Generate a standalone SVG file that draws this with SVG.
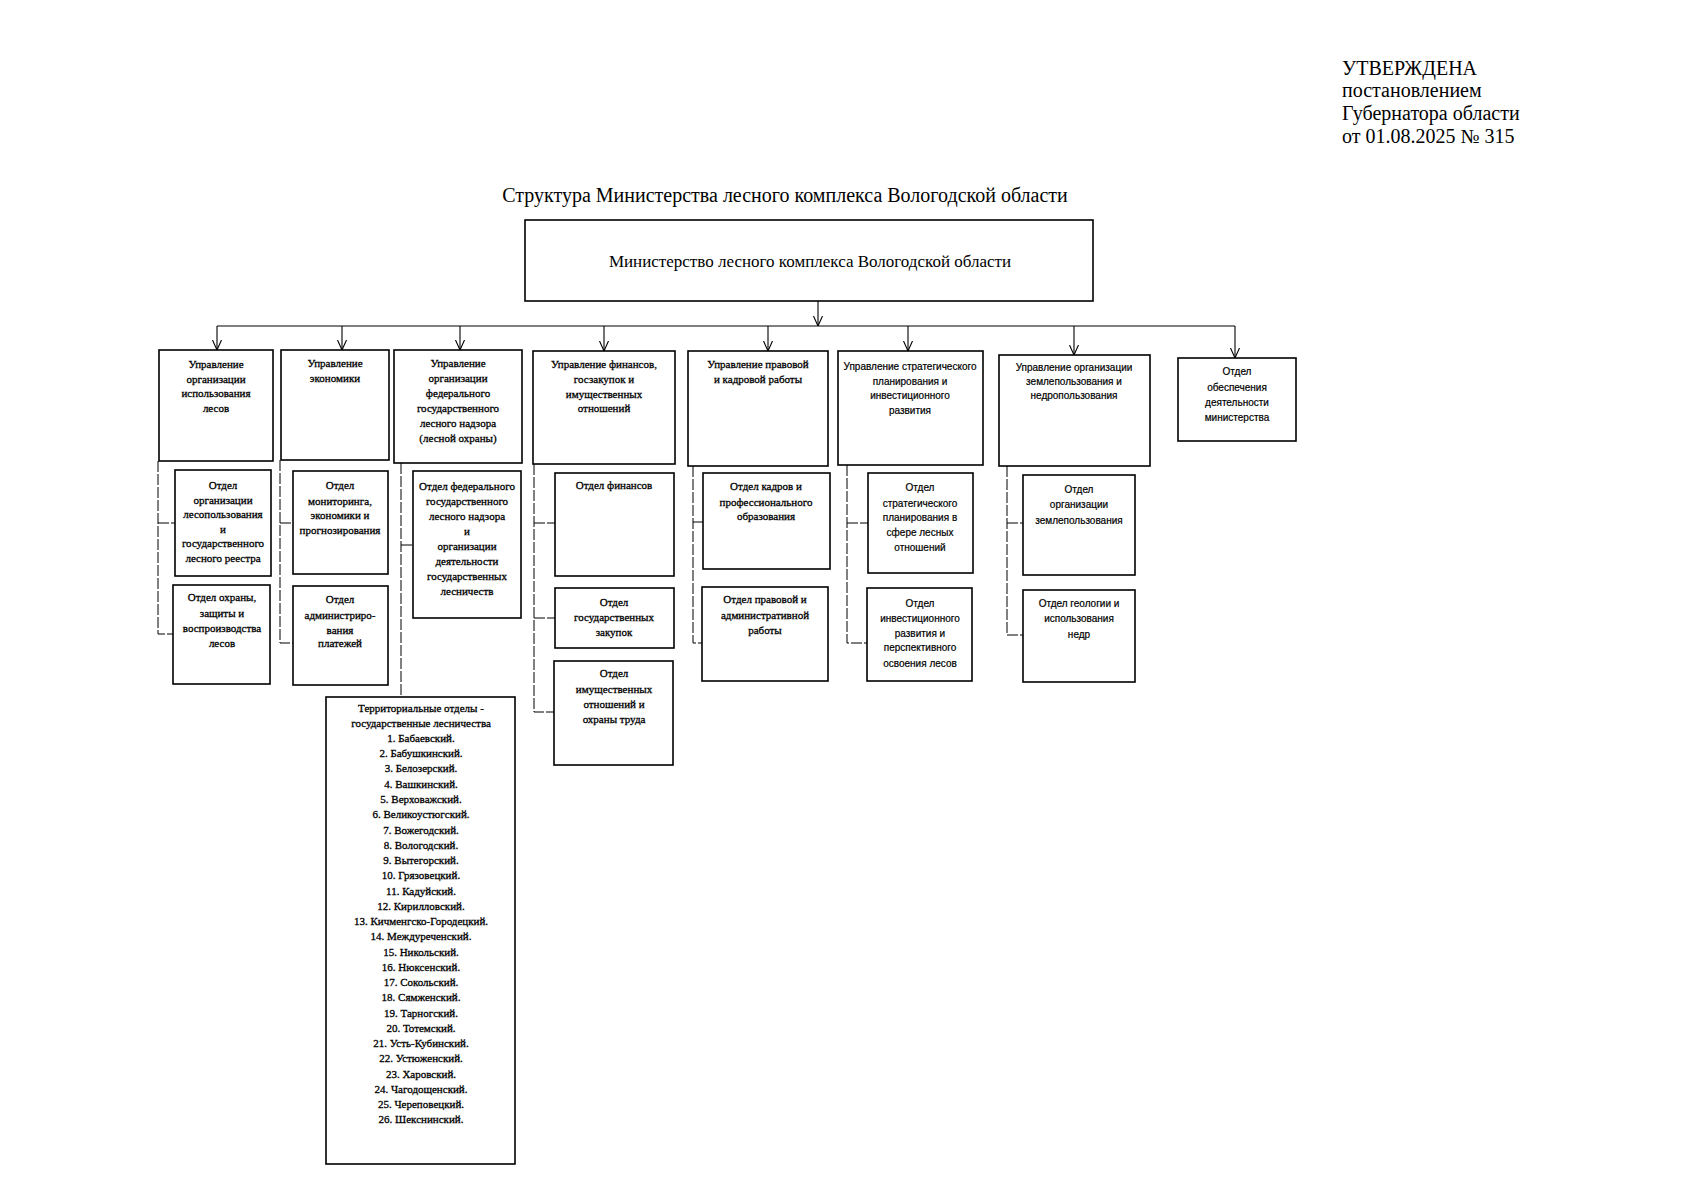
<svg xmlns="http://www.w3.org/2000/svg" width="1698" height="1200" viewBox="0 0 1698 1200">
<style>
.bg{fill:#fff}
.box{fill:none;stroke:#000;stroke-width:1.6}
.t{font-family:"Liberation Serif","DejaVu Serif",serif;font-size:11px;text-anchor:middle;fill:#000;stroke:#000;stroke-width:0.3}
.s{font-family:"Liberation Sans","DejaVu Sans",sans-serif;font-size:10px;text-anchor:middle;fill:#000;stroke:#000;stroke-width:0.2}
.big{font-family:"Liberation Serif","DejaVu Serif",serif;fill:#000}
.conn{fill:none;stroke:#000;stroke-width:1.1}
.side{fill:none;stroke:#000;stroke-width:1;stroke-dasharray:11 2}
</style>
<defs>
<marker id="arr" viewBox="0 0 10 10" refX="10" refY="5" markerWidth="10" markerHeight="10" markerUnits="userSpaceOnUse" orient="auto">
<path d="M0,0.5 L10,5 L0,9.5" fill="none" stroke="#000" stroke-width="1.1"/>
</marker>
</defs>
<rect class="bg" x="0" y="0" width="1698" height="1200"/>

<g id="header">
<text class="big" x="1342" y="75" font-size="20">УТВЕРЖДЕНА</text>
<text class="big" x="1342" y="97" font-size="20">постановлением</text>
<text class="big" x="1342" y="120" font-size="20">Губернатора области</text>
<text class="big" x="1342" y="143" font-size="20">от 01.08.2025 № 315</text>
</g>
<g id="title">
<text class="big" x="785" y="202" font-size="20" text-anchor="middle">Структура Министерства лесного комплекса Вологодской области</text>
</g>

<g id="connectors">
<line class="conn" x1="818" y1="301" x2="818" y2="326" marker-end="url(#arr)"/>
<line class="conn" x1="217" y1="326" x2="1235" y2="326"/>
<line class="conn" x1="217" y1="326" x2="217" y2="350" marker-end="url(#arr)"/>
<line class="conn" x1="342" y1="326" x2="342" y2="350" marker-end="url(#arr)"/>
<line class="conn" x1="460" y1="326" x2="460" y2="350" marker-end="url(#arr)"/>
<line class="conn" x1="604" y1="326" x2="604" y2="351" marker-end="url(#arr)"/>
<line class="conn" x1="768" y1="326" x2="768" y2="351" marker-end="url(#arr)"/>
<line class="conn" x1="908" y1="326" x2="908" y2="351" marker-end="url(#arr)"/>
<line class="conn" x1="1074" y1="326" x2="1074" y2="355" marker-end="url(#arr)"/>
<line class="conn" x1="1235" y1="326" x2="1235" y2="358" marker-end="url(#arr)"/>
<path class="side" d="M158,461 V634 H173 M158,523 H175"/>
<path class="side" d="M280,460 V643 H293 M280,523 H293"/>
<path class="side" d="M401,463 V697 M401,545 H413"/>
<path class="side" d="M534,464 V712 H554 M534,523 H555 M534,618 H555"/>
<path class="side" d="M693,466 V643 H702 M693,522 H703"/>
<path class="side" d="M847,465 V643 H867 M847,523 H868"/>
<path class="side" d="M1007,466 V635 H1023 M1007,523 H1023"/>
</g>

<g id="ministry">
<rect class="box" x="525" y="220" width="568" height="81"/>
<text class="big" x="810" y="267" font-size="17" text-anchor="middle">Министерство лесного комплекса Вологодской области</text>
</g>

<g id="u1">
<rect class="box" x="159" y="350" width="114" height="111"/>
<text class="t" x="216" y="368">Управление</text>
<text class="t" x="216" y="382.5">организации</text>
<text class="t" x="216" y="397">использования</text>
<text class="t" x="216" y="411.5">лесов</text>
</g>
<g id="u2">
<rect class="box" x="281" y="350" width="108" height="110"/>
<text class="t" x="335" y="367">Управление</text>
<text class="t" x="335" y="381.5">экономики</text>
</g>
<g id="u3">
<rect class="box" x="394" y="350" width="128" height="113"/>
<text class="t" x="458" y="367">Управление</text>
<text class="t" x="458" y="382">организации</text>
<text class="t" x="458" y="397">федерального</text>
<text class="t" x="458" y="412">государственного</text>
<text class="t" x="458" y="427">лесного надзора</text>
<text class="t" x="458" y="442">(лесной охраны)</text>
</g>
<g id="u4">
<rect class="box" x="533" y="351" width="142" height="113"/>
<text class="t" x="604" y="368">Управление финансов,</text>
<text class="t" x="604" y="383">госзакупок и</text>
<text class="t" x="604" y="398">имущественных</text>
<text class="t" x="604" y="412">отношений</text>
</g>
<g id="u5">
<rect class="box" x="688" y="351" width="140" height="115"/>
<text class="t" x="758" y="368">Управление правовой</text>
<text class="t" x="758" y="383">и кадровой работы</text>
</g>
<g id="u6">
<rect class="box" x="838" y="351" width="145" height="114"/>
<text class="s" x="910" y="370">Управление стратегического</text>
<text class="s" x="910" y="385">планирования и</text>
<text class="s" x="910" y="399">инвестиционного</text>
<text class="s" x="910" y="414">развития</text>
</g>
<g id="u7">
<rect class="box" x="999" y="355" width="151" height="111"/>
<text class="s" x="1074" y="371">Управление организации</text>
<text class="s" x="1074" y="385">землепользования и</text>
<text class="s" x="1074" y="399">недропользования</text>
</g>
<g id="u8">
<rect class="box" x="1178" y="358" width="118" height="83"/>
<text class="s" x="1237" y="375">Отдел</text>
<text class="s" x="1237" y="391">обеспечения</text>
<text class="s" x="1237" y="406">деятельности</text>
<text class="s" x="1237" y="421">министерства</text>
</g>

<g id="d1a">
<rect class="box" x="175" y="470" width="96" height="106"/>
<text class="t" x="223" y="489">Отдел</text>
<text class="t" x="223" y="503.5">организации</text>
<text class="t" x="223" y="518">лесопользования</text>
<text class="t" x="223" y="532.5">и</text>
<text class="t" x="223" y="547">государственного</text>
<text class="t" x="223" y="561.5">лесного реестра</text>
</g>
<g id="d1b">
<rect class="box" x="173" y="585" width="97" height="99"/>
<text class="t" x="222" y="601">Отдел охраны,</text>
<text class="t" x="222" y="617">защиты и</text>
<text class="t" x="222" y="632">воспроизводства</text>
<text class="t" x="222" y="647">лесов</text>
</g>
<g id="d2a">
<rect class="box" x="293" y="471" width="95" height="103"/>
<text class="t" x="340" y="489">Отдел</text>
<text class="t" x="340" y="505">мониторинга,</text>
<text class="t" x="340" y="519">экономики и</text>
<text class="t" x="340" y="534">прогнозирования</text>
</g>
<g id="d2b">
<rect class="box" x="293" y="586" width="95" height="99"/>
<text class="t" x="340" y="603">Отдел</text>
<text class="t" x="340" y="619">администриро-</text>
<text class="t" x="340" y="634">вания</text>
<text class="t" x="340" y="647">платежей</text>
</g>
<g id="d3a">
<rect class="box" x="413" y="471" width="108" height="147"/>
<text class="t" x="467" y="490">Отдел федерального</text>
<text class="t" x="467" y="505">государственного</text>
<text class="t" x="467" y="520">лесного надзора</text>
<text class="t" x="467" y="535">и</text>
<text class="t" x="467" y="550">организации</text>
<text class="t" x="467" y="565">деятельности</text>
<text class="t" x="467" y="580">государственных</text>
<text class="t" x="467" y="595">лесничеств</text>
</g>
<g id="d4a">
<rect class="box" x="555" y="473" width="119" height="103"/>
<text class="t" x="614" y="489">Отдел финансов</text>
</g>
<g id="d4b">
<rect class="box" x="555" y="588" width="119" height="60"/>
<text class="t" x="614" y="606">Отдел</text>
<text class="t" x="614" y="621">государственных</text>
<text class="t" x="614" y="636">закупок</text>
</g>
<g id="d4c">
<rect class="box" x="554" y="661" width="119" height="104"/>
<text class="t" x="614" y="677">Отдел</text>
<text class="t" x="614" y="693">имущественных</text>
<text class="t" x="614" y="708">отношений и</text>
<text class="t" x="614" y="723">охраны труда</text>
</g>
<g id="d5a">
<rect class="box" x="703" y="473" width="127" height="96"/>
<text class="t" x="766" y="490">Отдел кадров и</text>
<text class="t" x="766" y="506">профессионального</text>
<text class="t" x="766" y="520">образования</text>
</g>
<g id="d5b">
<rect class="box" x="702" y="587" width="126" height="94"/>
<text class="t" x="765" y="603">Отдел правовой и</text>
<text class="t" x="765" y="619">административной</text>
<text class="t" x="765" y="634">работы</text>
</g>
<g id="d6a">
<rect class="box" x="868" y="473" width="105" height="100"/>
<text class="s" x="920" y="491">Отдел</text>
<text class="s" x="920" y="507">стратегического</text>
<text class="s" x="920" y="521">планирования в</text>
<text class="s" x="920" y="536">сфере лесных</text>
<text class="s" x="920" y="551">отношений</text>
</g>
<g id="d6b">
<rect class="box" x="867" y="588" width="105" height="93"/>
<text class="s" x="920" y="607">Отдел</text>
<text class="s" x="920" y="622">инвестиционного</text>
<text class="s" x="920" y="637">развития и</text>
<text class="s" x="920" y="651">перспективного</text>
<text class="s" x="920" y="667">освоения лесов</text>
</g>
<g id="d7a">
<rect class="box" x="1023" y="475" width="112" height="100"/>
<text class="s" x="1079" y="493">Отдел</text>
<text class="s" x="1079" y="508">организации</text>
<text class="s" x="1079" y="524">землепользования</text>
</g>
<g id="d7b">
<rect class="box" x="1023" y="590" width="112" height="92"/>
<text class="s" x="1079" y="607">Отдел  геологии и</text>
<text class="s" x="1079" y="622">использования</text>
<text class="s" x="1079" y="638">недр</text>
</g>

<g id="territorial">
<rect class="box" x="326" y="697" width="189" height="467"/>
<text class="t" x="421" y="712">Территориальные отделы -</text>
<text class="t" x="421" y="727">государственные лесничества</text>
<text class="t" x="421" y="742">1. Бабаевский.</text>
<text class="t" x="421" y="757">2. Бабушкинский.</text>
<text class="t" x="421" y="772">3. Белозерский.</text>
<text class="t" x="421" y="788">4. Вашкинский.</text>
<text class="t" x="421" y="803">5. Верховажский.</text>
<text class="t" x="421" y="818">6. Великоустюгский.</text>
<text class="t" x="421" y="834">7. Вожегодский.</text>
<text class="t" x="421" y="849">8. Вологодский.</text>
<text class="t" x="421" y="864">9. Вытегорский.</text>
<text class="t" x="421" y="879">10. Грязовецкий.</text>
<text class="t" x="421" y="895">11. Кадуйский.</text>
<text class="t" x="421" y="910">12. Кирилловский.</text>
<text class="t" x="421" y="925">13. Кичменгско-Городецкий.</text>
<text class="t" x="421" y="940">14. Междуреченский.</text>
<text class="t" x="421" y="956">15. Никольский.</text>
<text class="t" x="421" y="971">16. Нюксенский.</text>
<text class="t" x="421" y="986">17. Сокольский.</text>
<text class="t" x="421" y="1001">18. Сямженский.</text>
<text class="t" x="421" y="1017">19. Тарногский.</text>
<text class="t" x="421" y="1032">20. Тотемский.</text>
<text class="t" x="421" y="1047">21. Усть-Кубинский.</text>
<text class="t" x="421" y="1062">22. Устюженский.</text>
<text class="t" x="421" y="1078">23. Харовский.</text>
<text class="t" x="421" y="1093">24. Чагодощенский.</text>
<text class="t" x="421" y="1108">25. Череповецкий.</text>
<text class="t" x="421" y="1123">26. Шекснинский.</text>
</g>
</svg>
